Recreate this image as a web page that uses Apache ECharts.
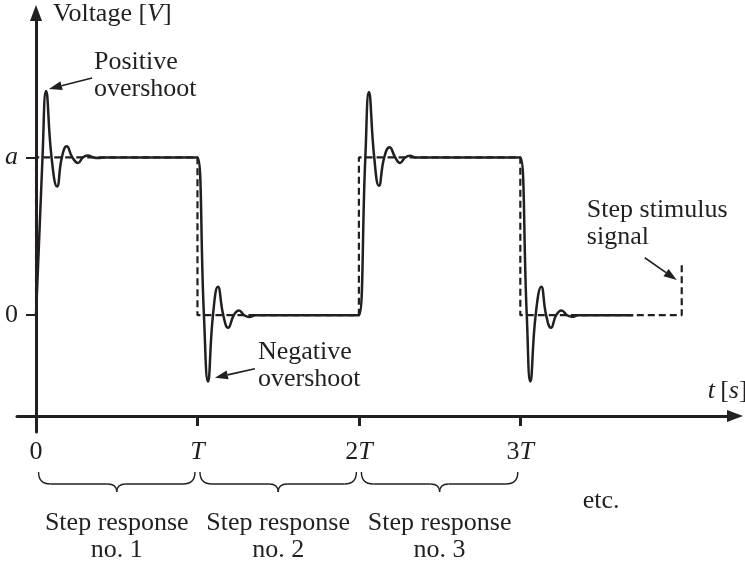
<!DOCTYPE html>
<html>
<head>
<meta charset="utf-8">
<script src="https://cdn.jsdelivr.net/npm/echarts@6/dist/echarts.min.js"></script>
<style>
  html, body { margin: 0; padding: 0; background: #fff; }
  #chart { width: 745px; height: 566px; }
</style>
</head>
<body>
<div id="chart"></div>
<script>
// time is in units of T, voltage in units of a
const xTicks = [0, 1, 2, 3];
const xTickLabels = ["0", "{i|T}", "2{i|T}", "3{i|T}"];
const yTicks = [0, 1];
const yTickLabels = ["0", "{i|a}"];

// dashed step stimulus
const stimulus = [
  [0, 0], [0, 1], [1, 1], [1, 0], [2, 0], [2, 1], [3, 1], [3, 0], [4, 0], [4, 0.33],
];

// solid response (peaks, troughs and crossings)
const response = [
  [0, 0], [0.04, 1], [0.062, 1.42], [0.096, 1], [0.13, 0.815], [0.16, 1], [0.19, 1.07],
  [0.225, 1], [0.26, 0.965], [0.29, 1], [0.32, 1.012], [0.355, 1], [0.385, 0.996], [0.42, 1], [0.98, 1],
  [1.0, 1], [1.04, 0], [1.065, -0.42], [1.096, 0], [1.127, 0.18], [1.16, 0], [1.19, -0.08],
  [1.225, 0], [1.257, 0.03], [1.29, 0], [1.32, -0.012], [1.36, 0], [1.98, 0],
  [2.0, 0], [2.04, 1], [2.062, 1.415], [2.095, 1], [2.124, 0.82], [2.157, 1], [2.19, 1.065],
  [2.225, 1], [2.255, 0.965], [2.287, 1], [2.317, 1.01], [2.35, 1], [2.98, 1],
  [3.0, 1], [3.04, 0], [3.062, -0.42], [3.095, 0], [3.13, 0.18], [3.16, 0], [3.19, -0.08],
  [3.222, 0], [3.255, 0.03], [3.29, 0], [3.32, -0.01], [3.36, 0], [3.7, 0],
];

// step response intervals under the time axis
const intervals = [[0, 1], [1, 2], [2, 3]];
const intervalNames = ["Step response\nno. 1", "Step response\nno. 2", "Step response\nno. 3"];

const xMin = -0.118, xMax = 4.33;
const yMin = -0.74, yMax = 1.915;

const ink = "#231f20";
const serif = "Liberation Serif";
const italic = { fontStyle: "italic", fontFamily: serif, fontSize: 26, color: ink };

// text notes with arrows, placed in data coordinates
const notes = [
  { text: "Positive\novershoot", at: [0.359, 1.687], from: [0.347, 1.503], to: [0.08, 1.434] },
  { text: "Negative\novershoot", at: [1.375, -0.149], from: [1.356, -0.339], to: [1.108, -0.396] },
  { text: "Step stimulus\nsignal", at: [3.412, 0.75], from: [3.771, 0.364], to: [3.969, 0.223] },
];

const option = {
  animation: false,
  backgroundColor: "#fff",
  grid: { left: 17, right: 10, top: 13, bottom: 134, outerBoundsMode: "none" },
  xAxis: {
    type: "value",
    min: xMin,
    max: xMax,
    offset: -16,
    axisLine: {
      onZero: false,
      symbol: ["none", "triangle"],
      symbolSize: [12, 16],
      lineStyle: { color: ink, width: 3 },
    },
    axisTick: {
      customValues: [1, 2, 3],
      length: 10,
      lineStyle: { color: ink, width: 3 },
    },
    axisLabel: {
      customValues: xTicks,
      margin: 23,
      fontFamily: serif,
      fontSize: 26,
      color: ink,
      formatter: (v) => xTickLabels[xTicks.indexOf(v)] || "",
      rich: { i: italic },
    },
    splitLine: { show: false },
  },
  yAxis: {
    type: "value",
    min: yMin,
    max: yMax,
    offset: -19,
    axisLine: {
      onZero: false,
      symbol: ["none", "triangle"],
      symbolSize: [12, 16],
      lineStyle: { color: ink, width: 3 },
    },
    axisTick: {
      customValues: yTicks,
      length: 10,
      lineStyle: { color: ink, width: 2 },
    },
    axisLabel: {
      customValues: yTicks,
      margin: 18,
      fontFamily: serif,
      fontSize: 26,
      color: ink,
      formatter: (v) => yTickLabels[yTicks.indexOf(v)] || "",
      rich: { i: italic },
    },
    splitLine: { show: false },
  },
  series: [
    {
      name: "stimulus",
      type: "line",
      data: stimulus,
      showSymbol: false,
      lineStyle: { color: ink, width: 2.2, type: [7, 4] },
      z: 2,
    },
    {
      name: "response",
      type: "line",
      data: response,
      showSymbol: false,
      smooth: 0.5,
      lineStyle: { color: ink, width: 2.5 },
      z: 3,
    },
  ],
};

const chart = echarts.init(document.getElementById("chart"));
chart.setOption(option);

const toPx = (p) => chart.convertToPixel({ gridIndex: 0 }, p);
const axisY = toPx([0, yMin])[1] - 16;
const textStyle = (text, x, y, align) => ({
  text, x, y, align: align || "left", verticalAlign: "top",
  fontFamily: serif, fontSize: 26, lineHeight: 27, fill: ink,
  rich: { i: { fontStyle: "italic", fontFamily: serif, fontSize: 26, fill: ink } },
});

const graphic = [];

// axis names
const vName = toPx([0.105, 1.902]);
graphic.push({ type: "text", style: textStyle("Voltage [{i|V}]", vName[0], vName[1] - 14) });
const tName = toPx([4.161, -0.484]);
graphic.push({ type: "text", style: textStyle("{i|t}\u2009[{i|s}]", tName[0], tName[1] - 14) });
const etc = toPx([3.387, -1.18]);
graphic.push({ type: "text", style: textStyle("etc.", etc[0], etc[1] - 14) });

// notes and arrows
notes.forEach((n) => {
  const p = toPx(n.at);
  graphic.push({ type: "text", style: textStyle(n.text, p[0], p[1]) });
  const a = toPx(n.from), b = toPx(n.to);
  const dx = b[0] - a[0], dy = b[1] - a[1];
  const len = Math.sqrt(dx * dx + dy * dy);
  const ux = dx / len, uy = dy / len;
  const head = 13, half = 4.5;
  const bx = b[0] - ux * head, by = b[1] - uy * head;
  graphic.push({
    type: "line",
    shape: { x1: a[0], y1: a[1], x2: bx, y2: by },
    style: { stroke: ink, lineWidth: 1.6 },
  });
  graphic.push({
    type: "polygon",
    shape: { points: [b, [bx - uy * half, by + ux * half], [bx + uy * half, by - ux * half]] },
    style: { fill: ink },
  });
});

// braces and labels for each step response
const braceStyle = { stroke: ink, lineWidth: 1.4, fill: null };
intervals.forEach((iv, k) => {
  const x1 = toPx([iv[0], 0])[0] + 2.5;
  const x2 = toPx([iv[1], 0])[0] - 2.5;
  const cx = (x1 + x2) / 2;
  const top = axisY + 56, mid = axisY + 68, tip = axisY + 76;
  graphic.push(
    { type: "bezierCurve", shape: { x1: x1, y1: top, x2: x1 + 12, y2: mid, cpx1: x1, cpy1: mid }, style: braceStyle },
    { type: "line", shape: { x1: x1 + 12, y1: mid, x2: cx - 9, y2: mid }, style: braceStyle },
    { type: "bezierCurve", shape: { x1: cx - 9, y1: mid, x2: cx, y2: tip, cpx1: cx, cpy1: mid }, style: braceStyle },
    { type: "bezierCurve", shape: { x1: cx + 9, y1: mid, x2: cx, y2: tip, cpx1: cx, cpy1: mid }, style: braceStyle },
    { type: "line", shape: { x1: cx + 9, y1: mid, x2: x2 - 12, y2: mid }, style: braceStyle },
    { type: "bezierCurve", shape: { x1: x2, y1: top, x2: x2 - 12, y2: mid, cpx1: x2, cpy1: mid }, style: braceStyle },
    { type: "text", style: textStyle(intervalNames[k], cx, axisY + 94, "center") }
  );
});

chart.setOption({ graphic });
</script>
</body>
</html>
